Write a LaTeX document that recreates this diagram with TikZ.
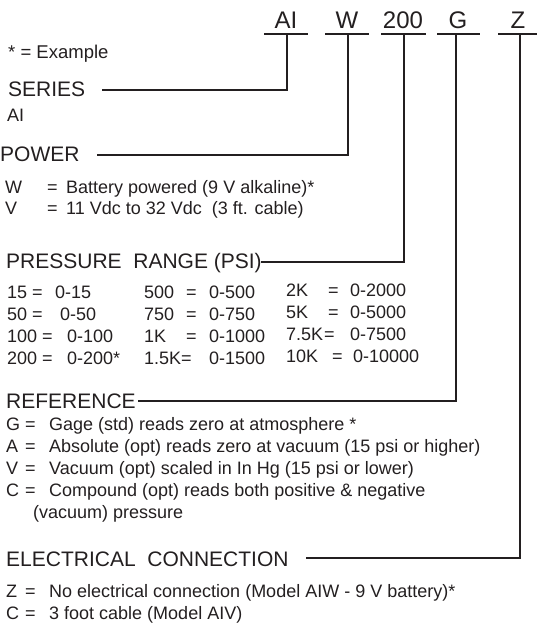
\documentclass[tikz,border=0pt]{standalone}
\usepackage{fontspec}
\setmainfont{Liberation Sans}
\definecolor{ink}{RGB}{35,31,32}
\newcommand\hdrfont{\fontsize{24}{28}\selectfont}
\newcommand\headfont{\fontsize{21}{25}\selectfont}
\newcommand\bodyfont{\fontsize{18}{22}\selectfont}
\newcommand\kvrow[7]{%
  \node[body] (#1k) at (#2,#5) {#6};
  \node[body] (#1e) at (#3,#5) {=};
  \node[body] (#1v) at (#4,#5) {#7};}
\begin{document}
\begin{tikzpicture}[x=1pt,y=-1pt,
  body/.style={anchor=base west,inner sep=0pt,font=\bodyfont,text=ink},
  head/.style={anchor=base west,inner sep=0pt,font=\headfont,text=ink},
  hdr/.style={anchor=base,inner sep=0pt,font=\hdrfont,text=ink},
  conn/.style={draw=ink,line width=1.4pt},
  uline/.style={draw=ink,line width=1.4pt}]
\useasboundingbox (0,0) rectangle (537,624);

% ---- part number header
\node[hdr] (hAI)  at (286,28) {AI};
\node[hdr] (hW)   at (347,28) {W};
\node[hdr] (h200) at (403,28) {200};
\node[hdr] (hG)   at (458,28) {G};
\node[hdr] (hZ)   at (518,28) {Z};
\coordinate (tAI)  at (287,34);
\coordinate (tW)   at (348,34);
\coordinate (t200) at (404,34);
\coordinate (tG)   at (456,34);
\coordinate (tZ)   at (520,34);
\draw[uline] (264,34) -- (308,34);
\draw[uline] (325,34) -- (369,34);
\draw[uline,line width=1.9pt] (381,34) -- (426,34);
\draw[uline] (437,34) -- (480,34);
\draw[uline,line width=2.5pt] (498,34) -- (537,34);

% ---- legend
\node[body,font=\fontsize{18.5}{22}\selectfont] (ex) at (8,58) {* = Example};

% ---- series
\node[head] (series) at (8,96) {SERIES};
\node[body] (ai) at (7,121) {AI};
\coordinate (sSeries) at (102,90);
\draw[conn] (sSeries) -| (tAI);

% ---- power
\node[head] (power) at (0,161) {POWER};
\coordinate (sPower) at (97,155);
\draw[conn] (sPower) -| (tW);
\kvrow{pw}{5}{47}{66}{193}{W}{Battery powered (9 V alkaline)*}
\kvrow{pv}{5}{47}{66}{214}{V}{11 Vdc to 32 Vdc\ \ (3 ft. cable)}

% ---- pressure range
\node[head] (press) at (6,268) {PRESSURE\ \ RANGE (PSI)};
\coordinate (sPress) at (261,262);
\draw[conn] (sPress) -| (t200);
\kvrow{ra}{7}{32}{55}{298}{15}{0-15}
\kvrow{rb}{7}{32}{60}{320}{50}{0-50}
\kvrow{rc}{7}{42}{67}{342}{100}{0-100}
\kvrow{rd}{7}{42}{67}{364}{200}{0-200*}
\kvrow{re}{144}{186}{209}{298}{500}{0-500}
\kvrow{rf}{144}{186}{209}{320}{750}{0-750}
\kvrow{rg}{144}{186}{209}{342}{1K}{0-1000}
\kvrow{rh}{144}{181}{209}{364}{1.5K}{0-1500}
\kvrow{ri}{286}{328}{350}{296}{2K}{0-2000}
\kvrow{rj}{286}{328}{350}{318}{5K}{0-5000}
\kvrow{rk}{286}{324}{350}{340}{7.5K}{0-7500}
\kvrow{rl}{286}{332}{353}{362}{10K}{0-10000}

% ---- reference
\node[head] (ref) at (6,408) {REFERENCE};
\coordinate (sRef) at (138,401);
\draw[conn] (sRef) -| (tG);
\kvrow{fg}{6}{25}{49}{430}{G}{Gage (std) reads zero at atmosphere *}
\kvrow{fa}{6}{25}{49}{452}{A}{Absolute (opt) reads zero at vacuum (15 psi or higher)}
\kvrow{fv}{6}{25}{49}{474}{V}{Vacuum (opt) scaled in In Hg (15 psi or lower)}
\kvrow{fc}{6}{25}{49}{496}{C}{Compound (opt) reads both positive \& negative}
\node[body] (fc2) at (33,518) {(vacuum) pressure};

% ---- electrical connection
\node[head] (elec) at (6,566) {ELECTRICAL\ \ CONNECTION};
\coordinate (sElec) at (306,558);
\draw[conn] (sElec) -| (tZ);
\kvrow{ez}{6}{25}{49}{597}{Z}{No electrical connection (Model AIW - 9 V battery)*}
\kvrow{ec}{6}{25}{49}{619}{C}{3 foot cable (Model AIV)}
\end{tikzpicture}
\end{document}
